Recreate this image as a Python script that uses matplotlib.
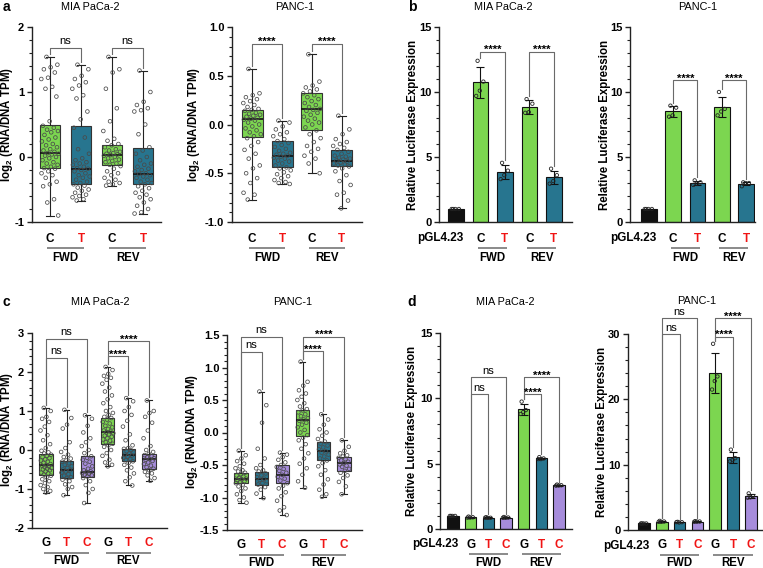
import numpy as np
import matplotlib
matplotlib.use('Agg')
import matplotlib.pyplot as plt
import matplotlib.transforms as mtransforms
from matplotlib.ticker import MultipleLocator, FormatStrFormatter

# Figure size in pixels (dpi 100)
W, H = 763, 568

GREEN = '#7CD650'
TEAL = '#27758F'
PURPLE = '#A68CDB'
BLACK = '#111111'
RED = '#F01414'

# ---------------- data ----------------
# a: MPRA, MIA PaCa-2 (C/T, FWD & REV)
a_mia_c_fwd = [1.54, 1.42, 1.38, 1.35, 1.30, 1.22, 1.20, 1.08, 1.05, 0.93, 0.55, 0.48, 0.45, 0.42,
               0.40, 0.38, 0.34, 0.30, 0.27, 0.24, 0.20, 0.18, 0.15, 0.12, 0.10, 0.08, 0.06, 0.05,
               0.04, 0.02, 0.00, -0.02, -0.05, -0.08, -0.10, -0.12, -0.15, -0.17, -0.18, -0.22,
               -0.25, -0.28, -0.32, -0.38, -0.42, -0.45, -0.65, -0.70, -0.90]
a_mia_t_fwd = [1.42, 1.35, 1.25, 1.20, 1.15, 1.10, 1.05, 0.95, 0.90, 0.70, 0.58, 0.45, 0.30, 0.12,
               0.05, -0.02, -0.05, -0.08, -0.10, -0.12, -0.15, -0.17, -0.18, -0.20, -0.22, -0.25,
               -0.28, -0.30, -0.32, -0.35, -0.38, -0.40, -0.42, -0.44, -0.47, -0.50, -0.52, -0.55,
               -0.58, -0.60, -0.62, -0.65, -0.67]
a_mia_c_rev = [1.54, 1.35, 1.30, 1.05, 0.75, 0.55, 0.40, 0.28, 0.25, 0.20, 0.18, 0.15, 0.12, 0.10,
               0.08, 0.06, 0.05, 0.04, 0.03, 0.02, 0.00, -0.02, -0.04, -0.06, -0.08, -0.10, -0.12,
               -0.14, -0.18, -0.22, -0.25, -0.28, -0.32, -0.35, -0.38, -0.40, -0.42, -0.44]
a_mia_t_rev = [1.33, 1.00, 0.85, 0.80, 0.75, 0.72, 0.70, 0.50, 0.35, 0.15, 0.10, 0.05, 0.00, -0.05,
               -0.10, -0.12, -0.15, -0.18, -0.20, -0.22, -0.25, -0.26, -0.28, -0.30, -0.32, -0.35,
               -0.38, -0.40, -0.42, -0.45, -0.48, -0.52, -0.55, -0.58, -0.62, -0.65, -0.70, -0.75,
               -0.80, -0.85, -0.87]
a_mia_q1 = [-0.17, -0.42, -0.12, -0.42]
a_mia_med = [0.06, -0.18, 0.03, -0.26]
a_mia_q3 = [0.49, 0.47, 0.19, 0.14]

# a: MPRA, PANC-1
a_panc_c_fwd = [0.57, 0.32, 0.30, 0.28, 0.26, 0.24, 0.22, 0.20, 0.18, 0.16, 0.15, 0.14, 0.12, 0.11,
                0.10, 0.09, 0.08, 0.07, 0.06, 0.05, 0.04, 0.02, 0.00, -0.02, -0.04, -0.06, -0.08,
                -0.10, -0.12, -0.14, -0.18, -0.22, -0.26, -0.30, -0.35, -0.42, -0.45, -0.50, -0.55,
                -0.60, -0.70, -0.72, -0.77]
a_panc_t_fwd = [0.04, 0.02, -0.02, -0.05, -0.08, -0.10, -0.12, -0.15, -0.17, -0.19, -0.21, -0.23,
                -0.25, -0.27, -0.29, -0.30, -0.31, -0.32, -0.33, -0.34, -0.35, -0.37, -0.38, -0.40,
                -0.42, -0.44, -0.45, -0.47, -0.49, -0.51, -0.53, -0.55, -0.57, -0.59, -0.60, -0.61]
a_panc_c_rev = [0.72, 0.44, 0.40, 0.38, 0.36, 0.34, 0.32, 0.30, 0.28, 0.26, 0.24, 0.22, 0.20, 0.18,
                0.16, 0.15, 0.14, 0.12, 0.10, 0.08, 0.06, 0.04, 0.02, 0.00, -0.03, -0.06, -0.10,
                -0.14, -0.18, -0.22, -0.25, -0.28, -0.32, -0.35, -0.40, -0.50]
a_panc_t_rev = [0.09, -0.05, -0.10, -0.15, -0.18, -0.20, -0.22, -0.24, -0.26, -0.28, -0.30, -0.32,
                -0.33, -0.34, -0.35, -0.36, -0.37, -0.38, -0.39, -0.40, -0.41, -0.42, -0.43, -0.45,
                -0.48, -0.52, -0.58, -0.62, -0.70, -0.72, -0.78, -0.86]
a_panc_q1 = [-0.13, -0.44, -0.06, -0.43]
a_panc_med = [0.06, -0.32, 0.16, -0.37]
a_panc_q3 = [0.15, -0.17, 0.32, -0.26]

# b: luciferase, C/T
b_mia_pgl = [1.0, 1.0, 1.0, 1.0]
b_mia_c_fwd = [12.4, 10.8, 10.1, 9.7]
b_mia_t_fwd = [4.55, 3.95, 3.6, 3.3]
b_mia_c_rev = [9.45, 9.1, 8.45, 8.4]
b_mia_t_rev = [4.1, 3.6, 3.15, 2.95]

b_panc_pgl = [1.0, 1.0, 1.0, 1.0]
b_panc_c_fwd = [8.95, 8.8, 8.2, 8.1]
b_panc_t_fwd = [3.2, 3.05, 2.95, 2.85]
b_panc_c_rev = [10.0, 8.7, 8.5, 8.2]
b_panc_t_rev = [3.05, 3.0, 3.0, 2.75]

# c: MPRA, G/T/C
c_mia_g_fwd = [1.08, 1.00, 0.85, 0.80, 0.72, 0.60, 0.50, 0.38, 0.25, 0.15, 0.05, -0.02, -0.06,
               -0.09, -0.12, -0.15, -0.18, -0.21, -0.24, -0.27, -0.30, -0.33, -0.36, -0.39, -0.40,
               -0.42, -0.44, -0.46, -0.48, -0.50, -0.52, -0.55, -0.58, -0.60, -0.63, -0.66, -0.70,
               -0.75, -0.80, -0.85, -0.90, -0.95, -1.00, -1.05, -1.09]
c_mia_t_fwd = [1.03, 0.82, 0.65, 0.55, 0.20, 0.05, -0.05, -0.12, -0.18, -0.22, -0.27, -0.30, -0.34,
               -0.38, -0.42, -0.46, -0.50, -0.52, -0.55, -0.58, -0.62, -0.66, -0.70, -0.72, -0.76,
               -0.80, -0.88, -0.95, -1.00, -1.16]
c_mia_c_fwd = [0.89, 0.80, 0.62, 0.45, 0.30, 0.20, 0.10, 0.00, -0.08, -0.16, -0.20, -0.25, -0.30,
               -0.35, -0.42, -0.48, -0.52, -0.55, -0.57, -0.59, -0.61, -0.63, -0.65, -0.68, -0.72,
               -0.80, -0.90, -1.00, -1.10, -1.36]
c_mia_g_rev = [2.13, 2.05, 1.95, 1.90, 1.85, 1.80, 1.70, 1.60, 1.50, 1.40, 1.30, 1.20, 1.10, 1.00,
               0.95, 0.90, 0.85, 0.82, 0.78, 0.72, 0.68, 0.62, 0.58, 0.54, 0.50, 0.47, 0.45, 0.43,
               0.40, 0.37, 0.34, 0.30, 0.27, 0.24, 0.20, 0.16, 0.12, 0.08, 0.00, -0.08, -0.15,
               -0.25, -0.32, -0.38, -0.42]
c_mia_t_rev = [1.33, 1.25, 1.10, 1.00, 0.90, 0.75, 0.60, 0.40, 0.25, 0.12, 0.05, 0.03, 0.00, -0.03,
               -0.06, -0.09, -0.12, -0.14, -0.17, -0.20, -0.23, -0.26, -0.29, -0.33, -0.38, -0.45,
               -0.52, -0.60, -0.70, -0.80, -0.91]
c_mia_c_rev = [1.27, 1.00, 0.95, 0.85, 0.70, 0.50, 0.30, 0.10, 0.00, -0.05, -0.10, -0.13, -0.16,
               -0.19, -0.21, -0.23, -0.25, -0.28, -0.32, -0.36, -0.40, -0.44, -0.48, -0.52, -0.56,
               -0.60, -0.65, -0.72, -0.79]
c_mia_q1 = [-0.63, -0.72, -0.68, 0.16, -0.29, -0.48]
c_mia_med = [-0.39, -0.50, -0.57, 0.45, -0.12, -0.23]
c_mia_q3 = [-0.09, -0.27, -0.16, 0.82, 0.03, -0.10]

c_panc_g_fwd = [-0.28, -0.35, -0.40, -0.44, -0.48, -0.52, -0.55, -0.58, -0.60, -0.62, -0.64, -0.66,
                -0.68, -0.70, -0.71, -0.72, -0.73, -0.75, -0.76, -0.78, -0.80, -0.83, -0.86, -0.90,
                -0.95, -1.00, -1.04, -1.08]
c_panc_t_fwd = [0.63, 0.42, 0.15, -0.25, -0.40, -0.50, -0.55, -0.58, -0.60, -0.63, -0.66, -0.69,
                -0.71, -0.73, -0.75, -0.78, -0.80, -0.84, -0.88, -0.94, -1.01]
c_panc_c_fwd = [-0.31, -0.34, -0.38, -0.42, -0.46, -0.50, -0.53, -0.56, -0.59, -0.62, -0.65, -0.68,
                -0.71, -0.74, -0.78, -0.82, -0.86, -0.92, -0.98, -1.05, -1.15, -1.20, -1.27]
c_panc_g_rev = [1.09, 0.78, 0.72, 0.65, 0.60, 0.55, 0.50, 0.45, 0.40, 0.36, 0.34, 0.31, 0.28, 0.25,
                0.22, 0.20, 0.18, 0.15, 0.12, 0.08, 0.04, 0.00, -0.04, -0.08, -0.12, -0.18, -0.25,
                -0.32, -0.40, -0.48, -0.55, -0.65, -0.75, -0.85]
c_panc_t_rev = [0.28, 0.20, 0.12, 0.05, 0.00, -0.05, -0.10, -0.14, -0.17, -0.20, -0.23, -0.26,
                -0.29, -0.31, -0.34, -0.37, -0.40, -0.43, -0.47, -0.52, -0.58, -0.65, -0.72, -0.80,
                -0.88, -0.95, -0.99]
c_panc_c_rev = [-0.12, -0.22, -0.28, -0.32, -0.35, -0.37, -0.39, -0.41, -0.43, -0.45, -0.47, -0.49,
                -0.51, -0.53, -0.56, -0.59, -0.62, -0.66, -0.70, -0.76, -0.83, -0.95]
c_panc_q1 = [-0.78, -0.80, -0.78, -0.06, -0.43, -0.59]
c_panc_med = [-0.71, -0.71, -0.65, 0.20, -0.29, -0.47]
c_panc_q3 = [-0.62, -0.60, -0.50, 0.35, -0.14, -0.37]

# d: luciferase, G/T/C
d_mia_pgl = [1.0, 1.0, 1.0, 1.0]
d_mia_g_fwd = [0.95, 0.90, 0.88, 0.87]
d_mia_t_fwd = [0.90, 0.86, 0.85, 0.87]
d_mia_c_fwd = [0.92, 0.88, 0.86, 0.86]
d_mia_g_rev = [9.75, 9.10, 8.95, 8.80]
d_mia_t_rev = [5.50, 5.40, 5.35, 5.35]
d_mia_c_rev = [3.40, 3.35, 3.33, 3.32]

d_panc_pgl = [1.0, 1.0, 1.0, 1.0]
d_panc_g_fwd = [1.40, 1.30, 1.25, 1.25]
d_panc_t_fwd = [1.25, 1.20, 1.15, 1.20]
d_panc_c_fwd = [1.35, 1.30, 1.28, 1.27]
d_panc_g_rev = [28.5, 23.5, 22.8, 21.5]
d_panc_t_rev = [12.3, 11.0, 10.7, 10.5]
d_panc_c_rev = [5.6, 5.2, 5.0, 4.95]

ct_labels = ['C', 'T', 'C', 'T']
gtc_labels = ['G', 'T', 'C', 'G', 'T', 'C']

plt.rcParams['font.family'] = ['Liberation Sans', 'DejaVu Sans']
plt.rcParams['font.weight'] = 'bold'
plt.rcParams['axes.unicode_minus'] = False
plt.rcParams['mathtext.fontset'] = 'custom'
plt.rcParams['mathtext.rm'] = 'Liberation Sans:bold'
plt.rcParams['mathtext.bf'] = 'Liberation Sans:bold'
plt.rcParams['mathtext.it'] = 'Liberation Sans:bold'

fig = plt.figure(figsize=(W / 100, H / 100), dpi=100)

FS = 8.0


def px(x, y):
    return x / W, 1 - y / H


def make_axes(left, top, right, bottom, xlim, ylim, major, minor, fmt):
    ax = fig.add_axes([left / W, 1 - bottom / H, (right - left) / W, (bottom - top) / H])
    ax.set_xlim(*xlim)
    ax.set_ylim(*ylim)
    ax.yaxis.set_major_locator(MultipleLocator(major))
    ax.yaxis.set_minor_locator(MultipleLocator(minor))
    ax.yaxis.set_major_formatter(FormatStrFormatter(fmt))
    for s in ['top', 'right']:
        ax.spines[s].set_visible(False)
    for s in ['left', 'bottom']:
        ax.spines[s].set_linewidth(1.0)
        ax.spines[s].set_color('#222222')
    ax.tick_params(axis='y', which='major', length=3.5, width=1.0, labelsize=FS, pad=2, color='#222222')
    ax.tick_params(axis='y', which='minor', length=2, width=0.8, color='#222222')
    ax.set_xticks([])
    ax.patch.set_alpha(0)
    return ax


def offset_y(ax, dy_px):
    return mtransforms.offset_copy(ax.get_xaxis_transform(), fig=fig, x=0, y=-dy_px * 0.72,
                                   units='points')


def x_labels(ax, labels, colors, groups, first_right=False, offs=(16.5, 26, 36)):
    for i, (lab, col) in enumerate(zip(labels, colors)):
        x = i + 1
        if first_right and i == 0:
            ax.text(x + 0.3, 0, lab, transform=offset_y(ax, offs[0]), ha='right', va='center',
                    fontsize=8.5, color=col, clip_on=False)
        else:
            ax.text(x, 0, lab, transform=offset_y(ax, offs[0]), ha='center', va='center',
                    fontsize=8.5, color=col, clip_on=False)
    for name, (i, j) in zip(['FWD', 'REV'], groups):
        ax.plot([i - 0.1, j + 0.1], [0, 0], transform=offset_y(ax, offs[1]), color='#8a8a8a',
                lw=1.4, clip_on=False, solid_capstyle='butt')
        ax.text((i + j) / 2, 0, name, transform=offset_y(ax, offs[2]), ha='center', va='center',
                fontsize=8.3, clip_on=False)


def gap_data(ax, px_gap):
    y0, y1 = ax.get_ylim()
    h = ax.get_position().height * H
    return px_gap * (y1 - y0) / h


def bracket(ax, i, j, y, text, tops):
    g = gap_data(ax, 3)
    ax.plot([i, i, j, j], [tops[i - 1] + g, y, y, tops[j - 1] + g], color='#6a6a6a', lw=0.8,
            clip_on=False, zorder=1)
    if text == 'ns':
        ax.annotate(text, xy=((i + j) / 2, y), xytext=(0, 2.5), textcoords='offset points',
                    ha='center', va='baseline', fontsize=8, fontweight='normal',
                    annotation_clip=False)
    else:
        ax.annotate(text, xy=((i + j) / 2, y), xytext=(0, -1.0), textcoords='offset points',
                    ha='center', va='baseline', fontsize=8, fontweight='bold',
                    annotation_clip=False)


def box_panel(ax, groups, q1, med, q3, colors, width):
    pos = np.arange(1, len(groups) + 1)
    stats = []
    for g, a, m, b in zip(groups, q1, med, q3):
        stats.append(dict(med=m, q1=a, q3=b, whislo=min(g), whishi=max(g)))
    bp = ax.bxp(stats, positions=pos, widths=width, patch_artist=True, showfliers=False,
                capwidths=width * 0.4, manage_ticks=False,
                boxprops=dict(edgecolor='#333333', linewidth=0.8),
                medianprops=dict(color='#111111', linewidth=1.2),
                whiskerprops=dict(color='#222222', linewidth=0.8),
                capprops=dict(color='#222222', linewidth=0.8))
    for patch, c in zip(bp['boxes'], colors):
        patch.set_facecolor(c)
    for p, g in zip(pos, groups):
        k = np.arange(len(g))
        off = ((k * 0.618034 + 0.3) % 1 - 0.5) * width * 0.85
        ax.scatter(p + off, g, s=7, facecolors='none', edgecolors='#4a4a4a', linewidths=0.55,
                   zorder=3, clip_on=False)
    return [max(g) for g in groups]


def bar_panel(ax, groups, colors, width):
    pos = np.arange(1, len(groups) + 1)
    means = np.array([np.mean(g) for g in groups])
    sds = np.array([np.std(g, ddof=1) for g in groups])
    ax.bar(pos, means, width, color=colors, edgecolor='#111111', linewidth=0.8, zorder=2)
    ax.errorbar(pos, means, yerr=sds, fmt='none', ecolor='#111111', elinewidth=0.8, capsize=2.8,
                capthick=0.8, zorder=3)
    for p, g in zip(pos, groups):
        k = np.arange(len(g))
        off = ((k * 0.618034 + 0.2) % 1 - 0.5) * width * 0.6
        ax.scatter(p + off, g, s=6, facecolors='none', edgecolors='#222222', linewidths=0.6,
                   zorder=4, clip_on=False)
    return [max(max(g), m + s) for g, m, s in zip(groups, means, sds)]


def main():
    log_label = 'log$_{2}$ (RNA/DNA TPM)'
    luc_label = 'Relative Luciferase Expression'
    ct_colors = ['black', RED, 'black', RED]
    gtc_colors = ['black', RED, RED, 'black', RED, RED]
    low = (15.5, 25, 33.5)

    # ---- a, MIA PaCa-2
    ax = make_axes(32, 27, 161, 222, (0.42, 4.58), (-1, 2), 1, 0.2, '%d')
    tops = box_panel(ax, [a_mia_c_fwd, a_mia_t_fwd, a_mia_c_rev, a_mia_t_rev],
                     a_mia_q1, a_mia_med, a_mia_q3, [GREEN, TEAL, GREEN, TEAL], 0.67)
    bracket(ax, 1, 2, 1.68, 'ns', tops)
    bracket(ax, 3, 4, 1.68, 'ns', tops)
    x_labels(ax, ct_labels, ct_colors, [(1, 2), (3, 4)])

    # ---- a, PANC-1
    ax = make_axes(232, 27, 362, 222, (0.33, 4.67), (-1, 1), 0.5, 0.1, '%.1f')
    tops = box_panel(ax, [a_panc_c_fwd, a_panc_t_fwd, a_panc_c_rev, a_panc_t_rev],
                     a_panc_q1, a_panc_med, a_panc_q3, [GREEN, TEAL, GREEN, TEAL], 0.7)
    bracket(ax, 1, 2, 0.83, '****', tops)
    bracket(ax, 3, 4, 0.83, '****', tops)
    x_labels(ax, ct_labels, ct_colors, [(1, 2), (3, 4)])

    # ---- b, MIA PaCa-2
    ax = make_axes(439, 27, 572, 222, (0.31, 5.74), (0, 15), 5, 1, '%d')
    tops = bar_panel(ax, [b_mia_pgl, b_mia_c_fwd, b_mia_t_fwd, b_mia_c_rev, b_mia_t_rev],
                     [BLACK, GREEN, TEAL, GREEN, TEAL], 0.64)
    bracket(ax, 2, 3, 13.1, '****', tops)
    bracket(ax, 4, 5, 13.1, '****', tops)
    x_labels(ax, ['pGL4.23'] + ct_labels, ['black'] + ct_colors, [(2, 3), (4, 5)], True)

    # ---- b, PANC-1
    ax = make_axes(630, 27, 755, 222, (0.22, 5.37), (0, 15), 5, 1, '%d')
    tops = bar_panel(ax, [b_panc_pgl, b_panc_c_fwd, b_panc_t_fwd, b_panc_c_rev, b_panc_t_rev],
                     [BLACK, GREEN, TEAL, GREEN, TEAL], 0.64)
    bracket(ax, 2, 3, 10.9, '****', tops)
    bracket(ax, 4, 5, 10.9, '****', tops)
    x_labels(ax, ['pGL4.23'] + ct_labels, ['black'] + ct_colors, [(2, 3), (4, 5)], True)

    # ---- c, MIA PaCa-2
    ax = make_axes(32, 333, 167, 528, (0.32, 6.87), (-2, 3), 1, 0.2, '%d')
    tops = box_panel(ax, [c_mia_g_fwd, c_mia_t_fwd, c_mia_c_fwd, c_mia_g_rev, c_mia_t_rev,
                          c_mia_c_rev],
                     c_mia_q1, c_mia_med, c_mia_q3,
                     [GREEN, TEAL, PURPLE, GREEN, TEAL, PURPLE], 0.64)
    bracket(ax, 1, 2, 2.36, 'ns', tops)
    bracket(ax, 1, 3, 2.85, 'ns', tops)
    bracket(ax, 4, 5, 2.40, '****', tops)
    bracket(ax, 4, 6, 2.79, '****', tops)
    x_labels(ax, gtc_labels, gtc_colors, [(1, 3), (4, 6)], offs=low)

    # ---- c, PANC-1
    ax = make_axes(227, 335, 362, 530, (0.32, 6.87), (-1.5, 1.5), 0.5, 0.1, '%.1f')
    tops = box_panel(ax, [c_panc_g_fwd, c_panc_t_fwd, c_panc_c_fwd, c_panc_g_rev, c_panc_t_rev,
                          c_panc_c_rev],
                     c_panc_q1, c_panc_med, c_panc_q3,
                     [GREEN, TEAL, PURPLE, GREEN, TEAL, PURPLE], 0.64)
    bracket(ax, 1, 2, 1.24, 'ns', tops)
    bracket(ax, 1, 3, 1.47, 'ns', tops)
    bracket(ax, 4, 5, 1.25, '****', tops)
    bracket(ax, 4, 6, 1.47, '****', tops)
    x_labels(ax, gtc_labels, gtc_colors, [(1, 3), (4, 6)], offs=low)

    # ---- d, MIA PaCa-2
    ax = make_axes(440, 333, 572, 529, (0.27, 7.73), (0, 15), 5, 1, '%d')
    tops = bar_panel(ax, [d_mia_pgl, d_mia_g_fwd, d_mia_t_fwd, d_mia_c_fwd, d_mia_g_rev,
                          d_mia_t_rev, d_mia_c_rev],
                     [BLACK, GREEN, TEAL, PURPLE, GREEN, TEAL, PURPLE], 0.65)
    bracket(ax, 2, 3, 10.3, 'ns', tops)
    bracket(ax, 2, 4, 11.6, 'ns', tops)
    bracket(ax, 5, 6, 10.3, '****', tops)
    bracket(ax, 5, 7, 11.6, '****', tops)
    x_labels(ax, ['pGL4.23'] + gtc_labels, ['black'] + gtc_colors, [(2, 4), (5, 7)], True,
             offs=low)

    # ---- d, PANC-1
    ax = make_axes(628, 334, 762, 530, (0.1, 7.63), (0, 30), 10, 2, '%d')
    tops = bar_panel(ax, [d_panc_pgl, d_panc_g_fwd, d_panc_t_fwd, d_panc_c_fwd, d_panc_g_rev,
                          d_panc_t_rev, d_panc_c_rev],
                     [BLACK, GREEN, TEAL, PURPLE, GREEN, TEAL, PURPLE], 0.66)
    bracket(ax, 2, 3, 30.0, 'ns', tops)
    bracket(ax, 2, 4, 32.45, 'ns', tops)
    bracket(ax, 5, 6, 29.6, '****', tops)
    bracket(ax, 5, 7, 32.45, '****', tops)
    x_labels(ax, ['pGL4.23'] + gtc_labels, ['black'] + gtc_colors, [(2, 4), (5, 7)], True,
             offs=low)

    # titles, panel letters, y labels
    titles = [(90, 7, 'MIA PaCa-2'), (295, 7, 'PANC-1'), (503, 7, 'MIA PaCa-2'),
              (698, 7, 'PANC-1'), (100, 302, 'MIA PaCa-2'), (293, 302, 'PANC-1'),
              (505, 302, 'MIA PaCa-2'), (697, 301, 'PANC-1')]
    for x, y, t in titles:
        fig.text(*px(x, y), t, ha='center', va='center', fontsize=7.8, fontweight='normal')
    for x, y, t in [(6, 7, 'a'), (412, 7, 'b'), (6, 302, 'c'), (412, 302, 'd')]:
        fig.text(*px(x, y), t, ha='center', va='center', fontsize=10, fontweight='bold')
    ylabs = [(7, 125, log_label), (194, 125, log_label), (413, 125, luc_label),
             (605, 125, luc_label), (7, 430, log_label), (192, 432, log_label),
             (412, 431, luc_label), (602, 432, luc_label)]
    for x, y, t in ylabs:
        fig.text(*px(x, y), t, ha='center', va='center', rotation=90, fontsize=8.3,
                 fontweight='bold')

    fig.savefig('out.png', dpi=100)


if __name__ == '__main__':
    main()
